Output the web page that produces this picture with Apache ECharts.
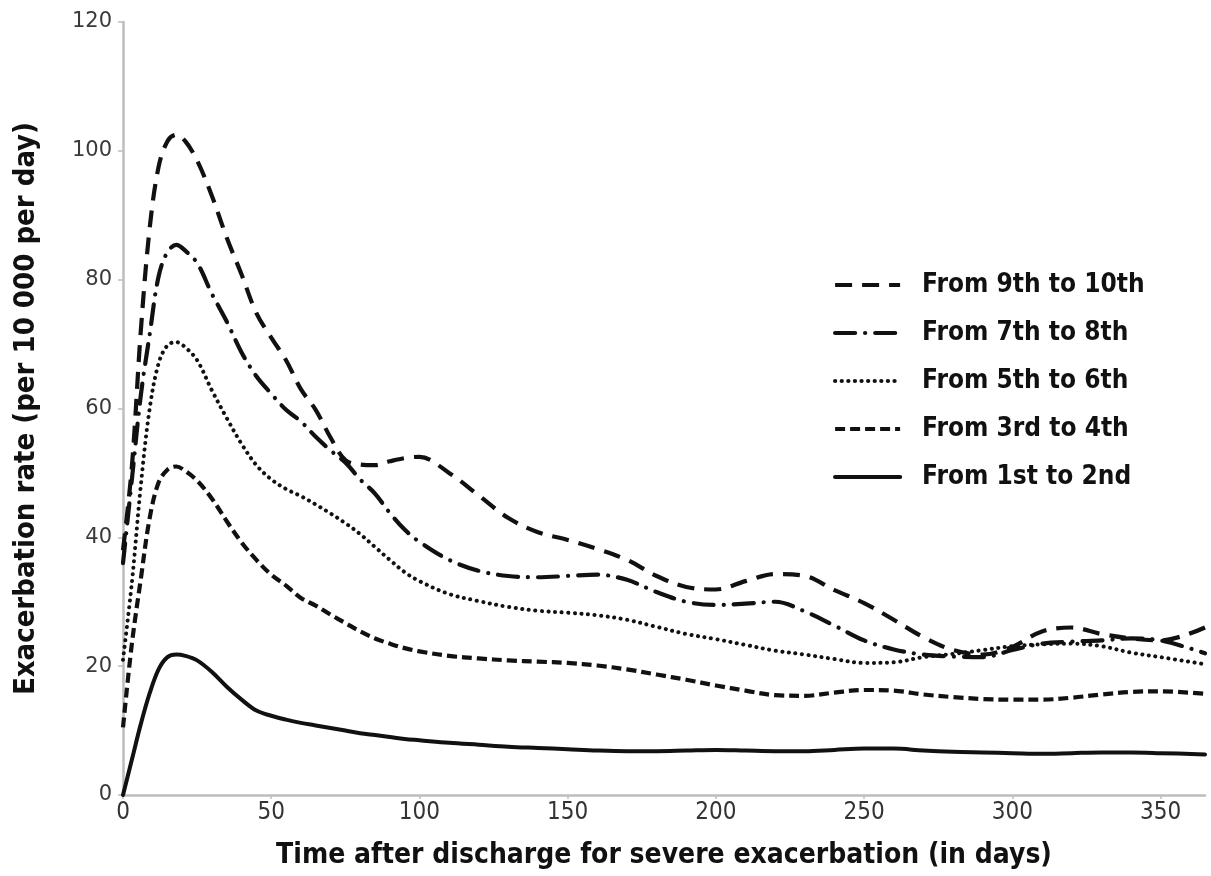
<!DOCTYPE html>
<html>
<head>
<meta charset="utf-8">
<script src="https://cdn.jsdelivr.net/npm/echarts@6/dist/echarts.min.js"></script>
<style>
  html, body { margin: 0; padding: 0; background: #fff; }
  #chart { width: 1211px; height: 876px; }
</style>
</head>
<body>
<div id="chart"></div>
<script>
// Days after discharge at which each curve is sampled
const days = [0, 3, 6, 9, 12, 15, 18, 21, 25, 30, 35, 40, 45, 50, 55, 60, 65, 70, 75, 80,
  85, 90, 95, 100, 110, 120, 130, 140, 150, 160, 170, 180, 190, 200, 210, 220, 230, 240, 250,
  260, 270, 280, 290, 300, 310, 320, 330, 340, 350, 365];

// Exacerbation rate (per 10 000 per day), one array per transition
const from9to10 = [38, 51, 72, 88, 97.5, 101.5, 102.5, 101.5, 98.5, 93, 86.5, 80.8, 74.8, 71, 67.5, 63,
  59.8, 55.5, 52, 51.3, 51.2, 51.8, 52.3, 52.5, 50, 46.5, 43, 40.8, 39.6, 38.2, 36.5, 34, 32.3, 31.9,
  33.2, 34.3, 34, 31.8, 29.8, 27.2, 24.5, 22.5, 21.8, 23, 25.4, 26, 25, 24.3, 24, 26];
const from7to8 = [36, 49, 62, 71.5, 80.5, 84.3, 85.4, 84.5, 82.6, 77.8, 73.5, 68.7, 65, 62.3, 59.8, 58,
  55.6, 53.5, 51.6, 49, 46.8, 43.8, 41.2, 39.3, 36.5, 34.8, 34, 33.8, 34, 34.2, 33.4, 31.5, 30, 29.5,
  29.7, 30, 28.5, 26.3, 24, 22.6, 21.8, 21.5, 21.4, 22.5, 23.5, 23.8, 24, 24.3, 24, 22];
const from5to6 = [21, 33, 48, 60, 67, 69.8, 70.3, 69.5, 67.5, 62.8, 58.5, 54.5, 51.2, 49, 47.5, 46.4,
  45.1, 43.7, 42.2, 40.5, 38.5, 36.5, 34.6, 33.2, 31.2, 30.1, 29.2, 28.6, 28.3, 27.9, 27.2, 26.1, 25,
  24.2, 23.3, 22.4, 21.8, 21.1, 20.5, 20.6, 21.4, 21.9, 22.5, 23.1, 23.4, 23.5, 23.1, 22.1, 21.4, 20.3];
const from3to4 = [10.5, 23.5, 33.5, 43, 48.5, 50.5, 51, 50.3, 48.8, 46, 42.5, 39.2, 36.5, 34.2, 32.5,
  30.6, 29.4, 28, 26.7, 25.4, 24.3, 23.5, 22.8, 22.3, 21.6, 21.2, 20.9, 20.7, 20.5, 20.1, 19.5, 18.7,
  17.9, 17, 16.2, 15.5, 15.4, 15.9, 16.3, 16.2, 15.6, 15.2, 14.9, 14.8, 14.8, 15.1, 15.6, 16, 16.1, 15.7];
const from1to2 = [0, 5.5, 11, 15.8, 19.5, 21.4, 21.8, 21.6, 20.9, 19.1, 16.8, 14.8, 13.1, 12.3, 11.7,
  11.2, 10.8, 10.4, 10, 9.6, 9.3, 9, 8.7, 8.5, 8.1, 7.8, 7.5, 7.3, 7.1, 6.9, 6.8, 6.8, 6.9, 7, 6.9,
  6.8, 6.8, 7, 7.2, 7.2, 6.9, 6.7, 6.6, 6.5, 6.4, 6.5, 6.6, 6.6, 6.5, 6.3];

const seriesNames = ['From 9th to 10th', 'From 7th to 8th', 'From 5th to 6th', 'From 3rd to 4th', 'From 1st to 2nd'];
const seriesValues = [from9to10, from7to8, from5to6, from3to4, from1to2];

const xTitle = 'Time after discharge for severe exacerbation (in days)';
const yTitle = 'Exacerbation rate (per 10 000 per day)';

// Line dash styles, top curve to bottom curve
const lineStyles = [
  { type: [17, 10], width: 4.2, cap: 'butt' },
  { type: [20, 10, 0.1, 10], width: 4.2, cap: 'round' },
  { type: [0.1, 6.5], width: 4, cap: 'round' },
  { type: [10, 5], width: 4.2, cap: 'butt' },
  { type: 'solid', width: 4, cap: 'round' }
];

const ink = '#111';
const axisGray = '#bdbdbd';
const narrow = '"Liberation Sans Narrow", "DejaVu Sans Condensed", "Open Sans", sans-serif';

const chart = echarts.init(document.getElementById('chart'), null, { renderer: 'canvas' });

chart.setOption({
  backgroundColor: '#fff',
  animation: false,
  grid: { left: 123, right: 6, top: 22, bottom: 81, containLabel: false },
  legend: {
    left: 833,
    top: 272,
    padding: 0,
    orient: 'vertical',
    itemWidth: 65,
    itemHeight: 20,
    itemGap: 22,
    data: seriesNames,
    // hide the marker dot so only the line sample is shown
    itemStyle: { color: 'rgba(0,0,0,0)', borderWidth: 0, opacity: 0 },
    lineStyle: { width: 4.2 },
    textStyle: {
      fontFamily: narrow,
      fontSize: 26,
      fontWeight: 'bold',
      color: ink,
      padding: [0, 0, 0, 17],
      lineHeight: 20,
      height: 20
    }
  },
  xAxis: {
    type: 'value',
    min: 0,
    max: 365,
    interval: 50,
    name: xTitle,
    nameLocation: 'middle',
    nameGap: 47,
    nameTextStyle: { fontFamily: narrow, fontSize: 28, fontWeight: 'bold', color: ink },
    axisLine: { show: true, lineStyle: { color: axisGray, width: 2.5 } },
    axisTick: { show: true, length: 4, lineStyle: { color: axisGray, width: 1.5 } },
    axisLabel: { fontFamily: narrow, fontSize: 24, color: '#333', margin: 6, showMaxLabel: false },
    splitLine: { show: false }
  },
  yAxis: {
    type: 'value',
    min: 0,
    max: 120,
    interval: 20,
    name: yTitle,
    nameLocation: 'middle',
    nameGap: 82,
    nameRotate: 90,
    nameTextStyle: { fontFamily: narrow, fontSize: 29, fontWeight: 'bold', color: ink },
    axisLine: { show: true, lineStyle: { color: axisGray, width: 2.5 } },
    axisTick: { show: true, length: 5, lineStyle: { color: axisGray, width: 1.5 } },
    axisLabel: { fontFamily: '"DejaVu Sans", sans-serif', fontSize: 21, color: '#3a3a3a', margin: 11 },
    splitLine: { show: false }
  },
  series: seriesNames.map((name, i) => ({
    name: name,
    type: 'line',
    symbol: 'none',
    smooth: 0.35,
    color: ink,
    lineStyle: Object.assign({ color: ink, join: 'round' }, lineStyles[i]),
    data: days.map((d, k) => [d, seriesValues[i][k]]),
    z: 5 - i
  }))
});
</script>
</body>
</html>
